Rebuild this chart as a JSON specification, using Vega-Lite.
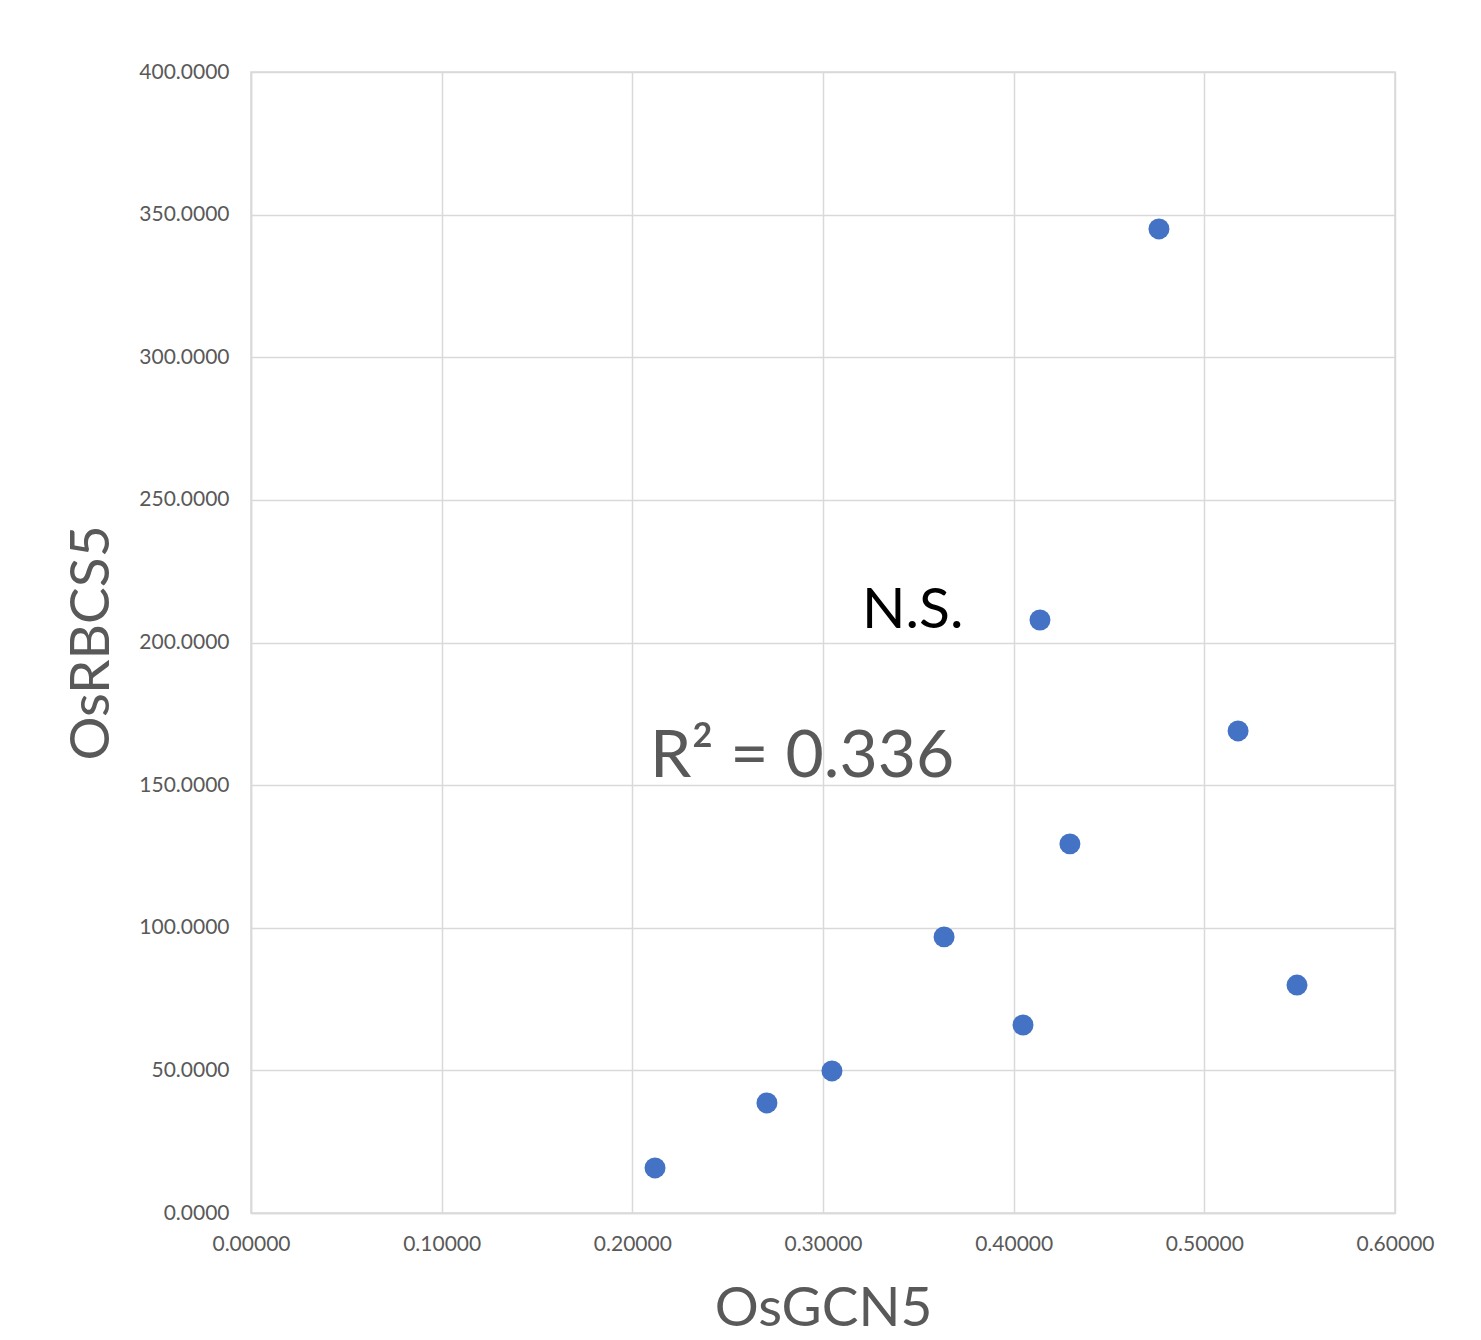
{
  "$schema": "https://vega.github.io/schema/vega-lite/v6.json",
  "width": 1144,
  "height": 1141,
  "autosize": {"type": "none"},
  "padding": {"left": 251, "top": 72, "right": 86, "bottom": 127},
  "background": "white",
  "config": {
    "font": "Lato",
    "view": {"stroke": "#d9d9d9", "strokeWidth": 1.5},
    "axis": {
      "gridColor": "#d9d9d9",
      "gridWidth": 1.5,
      "domainColor": "#d9d9d9",
      "domainWidth": 1.5,
      "ticks": false,
      "labelColor": "#595959",
      "labelFont": "Lato",
      "labelFontSize": 21,
      "titleColor": "#595959",
      "titleFont": "Lato",
      "titleFontSize": 55,
      "titleFontWeight": "normal"
    }
  },
  "layer": [
    {
      "data": {"values": [
        {"OsGCN5": 0.2119, "OsRBCS5": 15.8},
        {"OsGCN5": 0.2706, "OsRBCS5": 38.6},
        {"OsGCN5": 0.3047, "OsRBCS5": 49.8},
        {"OsGCN5": 0.3635, "OsRBCS5": 96.8},
        {"OsGCN5": 0.4049, "OsRBCS5": 65.9},
        {"OsGCN5": 0.4138, "OsRBCS5": 207.9},
        {"OsGCN5": 0.4295, "OsRBCS5": 129.4},
        {"OsGCN5": 0.4762, "OsRBCS5": 345.0},
        {"OsGCN5": 0.5177, "OsRBCS5": 169.0},
        {"OsGCN5": 0.5486, "OsRBCS5": 79.9}
      ]},
      "mark": {"type": "circle", "size": 440, "opacity": 1, "color": "#4472C4"},
      "encoding": {
        "x": {
          "field": "OsGCN5", "type": "quantitative",
          "scale": {"domain": [0, 0.6], "nice": false, "zero": true},
          "axis": {"values": [0, 0.1, 0.2, 0.3, 0.4, 0.5, 0.6], "format": ".5f", "labelPadding": 20, "title": "OsGCN5", "titlePadding": 28, "labelFlush": false}
        },
        "y": {
          "field": "OsRBCS5", "type": "quantitative",
          "scale": {"domain": [0, 400], "nice": false},
          "axis": {"values": [0, 50, 100, 150, 200, 250, 300, 350, 400], "format": ".4f", "labelPadding": 22, "title": "OsRBCS5", "titlePadding": 18}
        }
      }
    },
    {
      "data": {"values": [
        {"x": 0.2093, "y": 152.8, "label": "R² = 0.336"}
      ]},
      "mark": {"type": "text", "align": "left", "baseline": "alphabetic", "fontSize": 66, "color": "#595959", "font": "Lato"},
      "encoding": {
        "x": {"field": "x", "type": "quantitative"},
        "y": {"field": "y", "type": "quantitative"},
        "text": {"field": "label"}
      }
    },
    {
      "data": {"values": [
        {"x": 0.3205, "y": 205.1, "label": "N.S."}
      ]},
      "mark": {"type": "text", "align": "left", "baseline": "alphabetic", "fontSize": 57, "color": "#000000", "font": "Lato"},
      "encoding": {
        "x": {"field": "x", "type": "quantitative"},
        "y": {"field": "y", "type": "quantitative"},
        "text": {"field": "label"}
      }
    }
  ]
}
